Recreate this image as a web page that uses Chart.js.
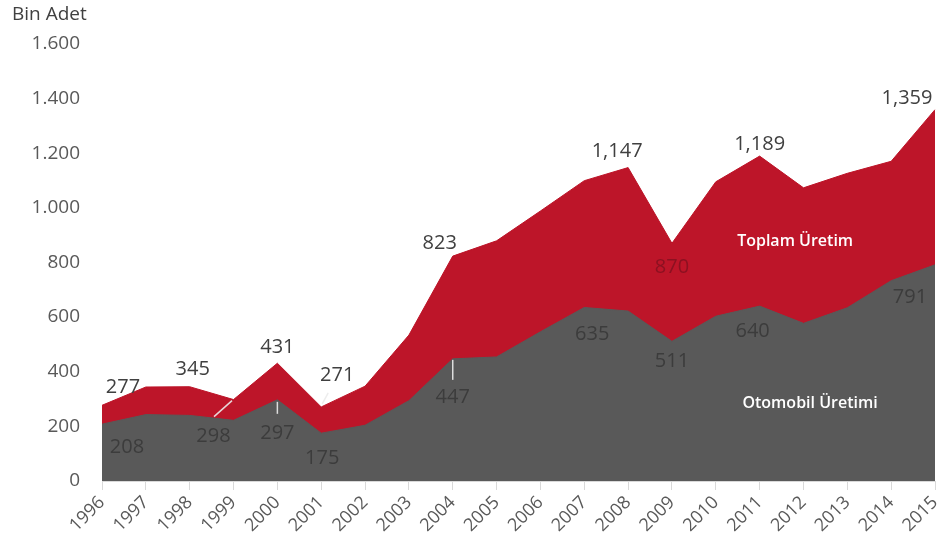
<!DOCTYPE html>
<html>
<head>
<meta charset="utf-8">
<script src="https://cdn.jsdelivr.net/npm/chart.js@4.4.1/dist/chart.umd.min.js"></script>
<style>
  html, body { margin: 0; padding: 0; background: #ffffff; }
  #wrap { width: 940px; height: 552px; position: relative; }
</style>
</head>
<body>
<div id="wrap"><canvas id="c" width="940" height="552"></canvas></div>
<script>
// ---- data (thousand units) ----
const years = ['1996','1997','1998','1999','2000','2001','2002','2003','2004','2005','2006','2007','2008','2009','2010','2011','2012','2013','2014','2015'];
const toplamUretim = [277, 344, 345, 298, 431, 271, 347, 534, 823, 879, 988, 1099, 1147, 870, 1095, 1189, 1073, 1126, 1170, 1359];
const otomobilUretimi = [208, 243, 240, 222, 297, 175, 204, 294, 447, 454, 546, 635, 622, 511, 603, 640, 577, 634, 733, 791];
const yTicks = [0, 200, 400, 600, 800, 1000, 1200, 1400, 1600];
const unitLabel = 'Bin Adet';
const seriesNames = ['Otomobil Üretimi', 'Toplam Üretim'];

const RED = '#bd1529';
const GRAY = '#595959';
const FONT = "'Open Sans', 'Liberation Sans', sans-serif";

// label placement (dataset index, point index, offset from point, colour)
const labelSpecs = [
  {ds: 1, i: 0,  dx: 21,  dy: -18, c: '#404040'},
  {ds: 1, i: 2,  dx: 3,   dy: -17, c: '#404040'},
  {ds: 1, i: 4,  dx: 0,   dy: -16, c: '#404040'},
  {ds: 1, i: 5,  dx: 16,  dy: -32, c: '#404040'},
  {ds: 1, i: 8,  dx: -13, dy: -13, c: '#404040'},
  {ds: 1, i: 12, dx: -11, dy: -16, c: '#404040'},
  {ds: 1, i: 15, dx: 0,   dy: -12, c: '#404040'},
  {ds: 1, i: 19, dx: -28, dy: -11, c: '#404040'},
  {ds: 1, i: 13, dx: 0,   dy: 24,  c: '#8c1121'},
  {ds: 1, i: 3,  dx: -20, dy: 37,  c: '#3c3c3c'},
  {ds: 0, i: 0,  dx: 25,  dy: 23,  c: '#3c3c3c'},
  {ds: 0, i: 4,  dx: 0,   dy: 33,  c: '#3c3c3c'},
  {ds: 0, i: 5,  dx: 1,   dy: 25,  c: '#3c3c3c'},
  {ds: 0, i: 8,  dx: 0,   dy: 38,  c: '#3c3c3c'},
  {ds: 0, i: 11, dx: 8,   dy: 27,  c: '#3c3c3c'},
  {ds: 0, i: 13, dx: 0,   dy: 20,  c: '#3c3c3c'},
  {ds: 0, i: 15, dx: -7,  dy: 25,  c: '#3c3c3c'},
  {ds: 0, i: 19, dx: -25, dy: 32,  c: '#3c3c3c'}
];
const leaderSpecs = [
  {ds: 1, i: 3, x1: -1.5, y1: 1, x2: -19.5, y2: 17},
  {ds: 1, i: 5, x1: 1,  y1: -3, x2: 7,  y2: -14},
  {ds: 0, i: 4, x1: 0,  y1: 2,  x2: 0,  y2: 14},
  {ds: 0, i: 8, x1: 0,  y1: 1,  x2: 0,  y2: 21}
];
const nameSpecs = [
  {text: seriesNames[1], idx: 15.81, val: 877},
  {text: seriesNames[0], idx: 16.15, val: 283}
];

function fmtComma(v) { return v.toString().replace(/\B(?=(\d{3})+(?!\d))/g, ','); }
function fmtDot(v) { return v.toString().replace(/\B(?=(\d{3})+(?!\d))/g, '.'); }

const labelPlugin = {
  id: 'labels',
  afterDatasetsDraw(chart) {
    const ctx = chart.ctx;
    const xs = chart.scales.x, ys = chart.scales.y;
    ctx.save();
    // leader lines
    ctx.strokeStyle = 'rgba(235,235,235,0.9)';
    ctx.lineWidth = 1.5;
    leaderSpecs.forEach(s => {
      const p = chart.getDatasetMeta(s.ds).data[s.i];
      ctx.beginPath();
      ctx.moveTo(p.x + s.x1, p.y + s.y1);
      ctx.lineTo(p.x + s.x2, p.y + s.y2);
      ctx.stroke();
    });
    // value labels
    ctx.font = '20px ' + FONT;
    ctx.textAlign = 'center';
    ctx.textBaseline = 'middle';
    labelSpecs.forEach(s => {
      const p = chart.getDatasetMeta(s.ds).data[s.i];
      const v = chart.data.datasets[s.ds].data[s.i];
      ctx.fillStyle = s.c;
      ctx.fillText(fmtComma(v), p.x + s.dx, p.y + s.dy);
    });
    // series names
    ctx.font = '600 16px ' + FONT;
    ctx.fillStyle = '#ffffff';
    nameSpecs.forEach(s => {
      const x0 = xs.getPixelForValue(Math.floor(s.idx));
      const x1 = xs.getPixelForValue(Math.floor(s.idx) + 1);
      const x = x0 + (x1 - x0) * (s.idx - Math.floor(s.idx));
      ctx.fillText(s.text, x, ys.getPixelForValue(s.val));
    });
    ctx.restore();
  }
};

new Chart(document.getElementById('c'), {
  type: 'line',
  data: {
    labels: years,
    datasets: [
      {
        label: seriesNames[0],
        data: otomobilUretimi,
        backgroundColor: GRAY,
        borderColor: GRAY,
        borderWidth: 1,
        fill: 'origin',
        pointRadius: 0,
        tension: 0
      },
      {
        label: seriesNames[1],
        data: toplamUretim,
        backgroundColor: RED,
        borderColor: RED,
        borderWidth: 1,
        fill: 'origin',
        pointRadius: 0,
        tension: 0
      }
    ]
  },
  options: {
    responsive: false,
    animation: false,
    layout: { padding: { left: 12, right: 5, top: 3, bottom: 0 } },
    plugins: {
      legend: { display: false },
      tooltip: { enabled: false },
      title: {
        display: true,
        text: unitLabel,
        align: 'start',
        color: '#404040',
        font: { family: FONT, size: 19, weight: 'normal' },
        padding: { top: 0, bottom: 18 }
      }
    },
    scales: {
      x: {
        grid: { display: true, drawOnChartArea: false, drawTicks: true, tickLength: 9, color: '#d9d9d9' },
        border: { display: true, color: '#d9d9d9' },
        ticks: {
          color: '#595959',
          font: { family: FONT, size: 18 },
          maxRotation: 45, minRotation: 45,
          padding: 2,
          autoSkip: false
        },
        afterFit(scale) { scale.height = 71; scale.paddingRight = 0; scale.paddingLeft = 0; }
      },
      y: {
        min: 0, max: 1600,
        grid: { display: false, drawTicks: false },
        border: { display: false },
        afterBuildTicks(scale) { scale.ticks = yTicks.map(v => ({ value: v })); },
        ticks: {
          color: '#595959',
          font: { family: FONT, size: 19 },
          padding: 22,
          callback: v => fmtDot(v)
        },
        afterFit(scale) { scale.width = 90; }
      }
    }
  },
  plugins: [labelPlugin]
});
</script>
</body>
</html>
